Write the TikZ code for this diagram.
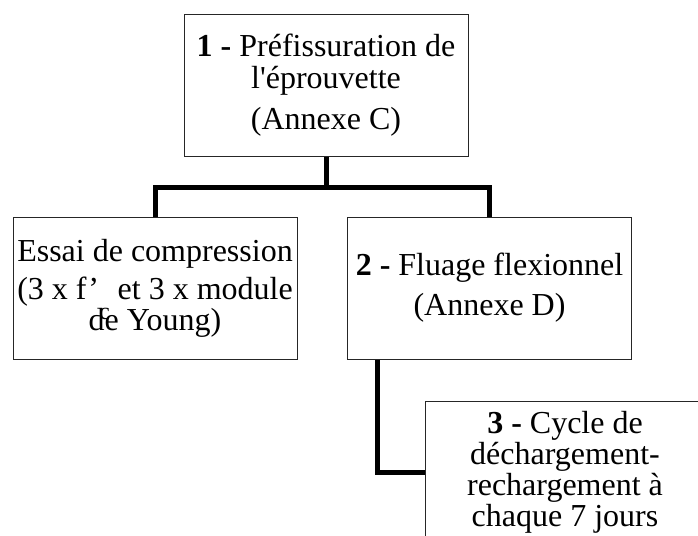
\documentclass[tikz,border=0pt]{standalone}
\usepackage{fontspec}
\setmainfont{Liberation Serif}
\usetikzlibrary{positioning}

\newcommand{\lowsub}[1]{\smash{\raisebox{-20pt}{\fontsize{24}{24}\selectfont #1}}}

\begin{document}
\begin{tikzpicture}[x=1pt,y=-1pt,
    stage/.style={draw=black!85,line width=1pt,fill=white,align=center,
      minimum width=284pt,minimum height=142pt,inner sep=0pt,
      font=\fontsize{32}{31}\selectfont},
    branch/.style={line width=5pt}]
  \useasboundingbox (0,0) rectangle (698,535);
  \clip (0,0) rectangle (698,535);
  % les etapes
  \node[stage] (precrack) at (326,85.5) {\textbf{1 -} Préfissuration de\\[1pt]
    l\textquotesingle éprouvette\\[10pt] (Annexe C)};
  \node[stage] (compress) at (155,288) {Essai de compression\\[7pt]
    (3 x f’\lowsub{c} et 3 x module\\ de Young)};
  \node[stage] (creep) at (489.5,288) {\textbf{2 -} Fluage flexionnel\\[9pt]
    (Annexe D)};
  \node[stage,minimum width=280pt] (cycle) at (565,472) {\textbf{3 -} Cycle de\\
    déchargement-\\ rechargement à\\ chaque 7 jours};
  % liaisons
  \coordinate (split) at (326,187);
  \draw[branch] (precrack.south) -- (split);
  \draw[branch] (compress.north) |- (split) -| (creep.north);
  \draw[branch] ([xshift=30pt]creep.south west) |- (cycle.west);
\end{tikzpicture}
\end{document}
